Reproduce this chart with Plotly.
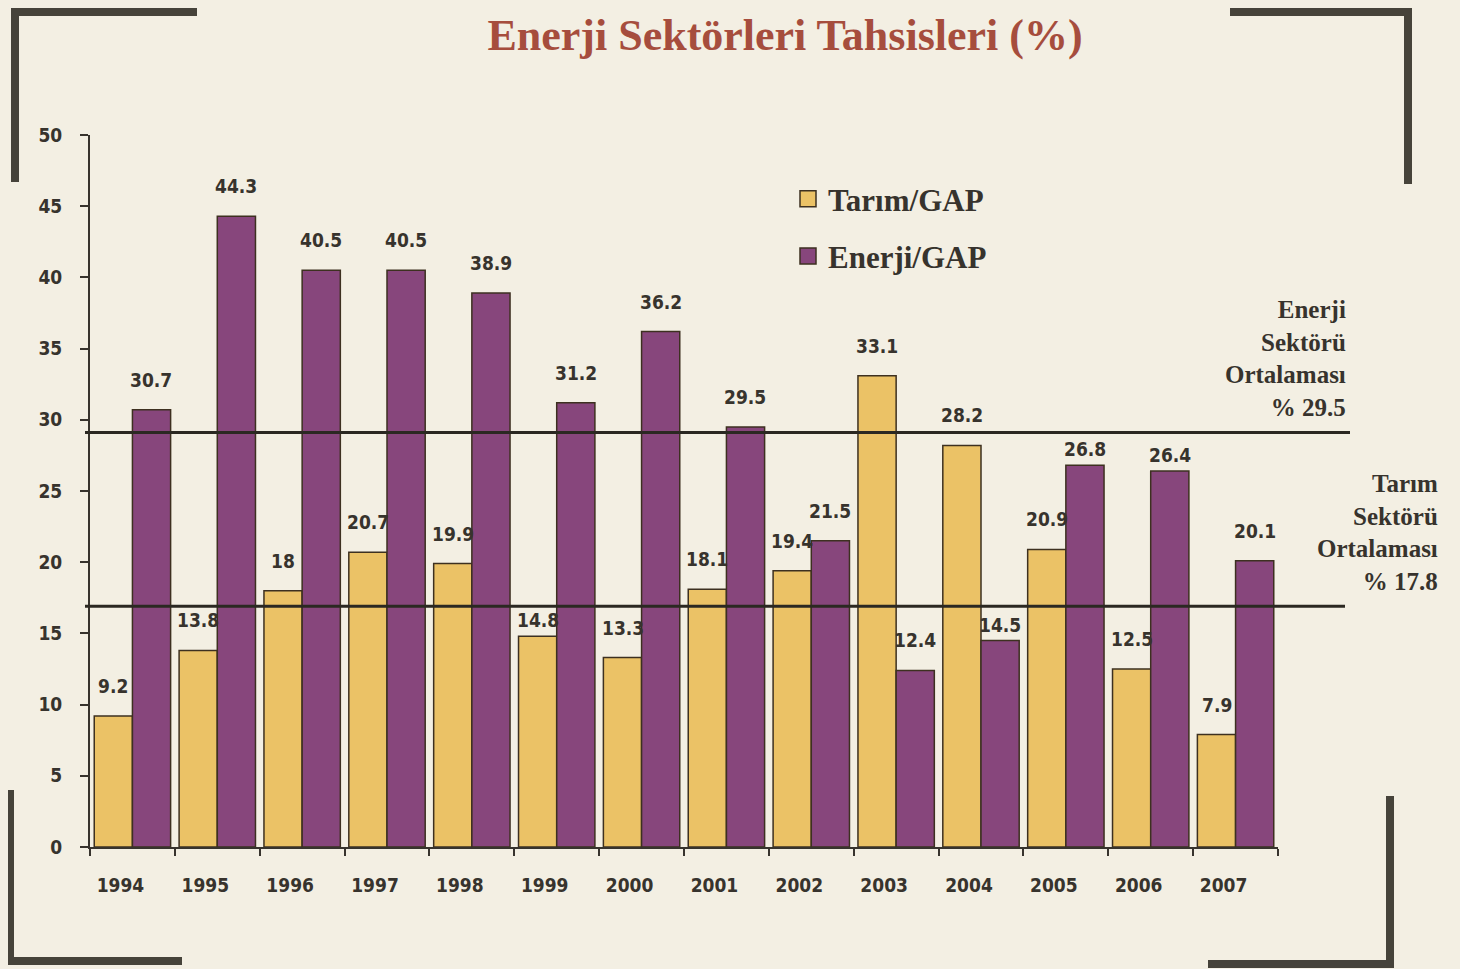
import plotly.graph_objects as go

years = ["1994", "1995", "1996", "1997", "1998", "1999", "2000",
         "2001", "2002", "2003", "2004", "2005", "2006", "2007"]
tarim = [9.2, 13.8, 18, 20.7, 19.9, 14.8, 13.3, 18.1, 19.4, 33.1, 28.2, 20.9, 12.5, 7.9]
enerji = [30.7, 44.3, 40.5, 40.5, 38.9, 31.2, 36.2, 29.5, 21.5, 12.4, 14.5, 26.8, 26.4, 20.1]
y_ticks = [0, 5, 10, 15, 20, 25, 30, 35, 40, 45, 50]

# average lines (position as drawn) and their printed labels
enerji_avg_line = 29.1
tarim_avg_line = 16.9
enerji_avg_text = "Enerji<br>Sektörü<br>Ortalaması<br>% 29.5"
tarim_avg_text = "Tarım<br>Sektörü<br>Ortalaması<br>% 17.8"

OFF = 8  # page body margin
W, H = 1460 - OFF, 969 - OFF
# plot area in page pixels
L, R, T, B = 90, 1278, 135, 847
BG = "#f3efe3"
DARK = "#37332d"
YELLOW = "#ebc266"
PURPLE = "#87467c"
OUTLINE = "#3d3020"
LABEL_FONT = dict(family="DejaVu Sans Condensed, DejaVu Sans, sans-serif", size=19,
                  color=DARK, weight="bold")
SERIF = "Liberation Serif, Times New Roman, serif"
PX_PER_UNIT = (B - T) / 50.0


def px(x):
    return (x - L) / (R - L)


def py(y):
    return (B - y) / (B - T)


def label_shift(v, shift=17, height=22):
    lo = v + shift / PX_PER_UNIT
    hi = v + (shift + height) / PX_PER_UNIT
    for line in (enerji_avg_line, tarim_avg_line):
        if lo <= line <= hi:
            return 3
    return shift


fig = go.Figure()
fig.add_trace(go.Bar(x=years, y=tarim, name="Tarım/GAP", showlegend=False,
                     marker=dict(color=YELLOW, line=dict(color=OUTLINE, width=1.5))))
fig.add_trace(go.Bar(x=years, y=enerji, name="Enerji/GAP", showlegend=False,
                     marker=dict(color=PURPLE, line=dict(color=OUTLINE, width=1.5))))
# legend entries
fig.add_trace(go.Scatter(x=[None], y=[None], mode="markers", name="Tarım/GAP",
                         legendgroup="a",
                         marker=dict(symbol="square", size=18, color=YELLOW,
                                     line=dict(color=OUTLINE, width=1.5))))
fig.add_trace(go.Scatter(x=[None], y=[None], mode="markers", name="Enerji/GAP",
                         legendgroup="b",
                         marker=dict(symbol="square", size=18, color=PURPLE,
                                     line=dict(color=OUTLINE, width=1.5))))

annotations = []
for i, yr in enumerate(years):
    annotations.append(dict(x=i, y=tarim[i], xref="x", yref="y", text=f"{tarim[i]:g}",
                            showarrow=False, xshift=-19, yanchor="bottom",
                            yshift=label_shift(tarim[i]), font=LABEL_FONT))
    annotations.append(dict(x=i, y=enerji[i], xref="x", yref="y", text=f"{enerji[i]:g}",
                            showarrow=False, xshift=19, yanchor="bottom",
                            yshift=label_shift(enerji[i]), font=LABEL_FONT))

annotations.append(dict(x=px(1348), y=py(294), xref="paper", yref="paper",
                        text=enerji_avg_text, showarrow=False, align="right",
                        xanchor="right", yanchor="top",
                        font=dict(family=SERIF, size=25, color=DARK, weight="bold")))
annotations.append(dict(x=px(1440), y=py(468), xref="paper", yref="paper",
                        text=tarim_avg_text, showarrow=False, align="right",
                        xanchor="right", yanchor="top",
                        font=dict(family=SERIF, size=25, color=DARK, weight="bold")))

shapes = [
    dict(type="line", xref="paper", yref="y", x0=px(85), x1=px(1350),
         y0=enerji_avg_line, y1=enerji_avg_line, line=dict(color="#2b2822", width=3)),
    dict(type="line", xref="paper", yref="y", x0=px(85), x1=px(1345),
         y0=tarim_avg_line, y1=tarim_avg_line, line=dict(color="#2b2822", width=3)),
]
FRAME = "#46433a"
brackets = [
    [(15, 182), (15, 12), (197, 12)],
    [(1230, 12), (1408, 12), (1408, 184)],
    [(10, 790), (10, 961), (182, 961)],
    [(1208, 964), (1390, 964), (1390, 796)],
]
for pts in brackets:
    path = "M " + " L ".join(f"{px(a):.5f},{py(b):.5f}" for a, b in pts)
    shapes.append(dict(type="path", xref="paper", yref="paper", path=path,
                       line=dict(color=FRAME, width=8)))

fig.update_layout(
    width=W, height=H,
    margin=dict(l=L - OFF, r=1460 - R, t=T - OFF, b=969 - B, pad=0),
    paper_bgcolor=BG, plot_bgcolor=BG,
    barmode="group", bargap=0.1, bargroupgap=0,
    title=dict(text="Enerji Sektörleri Tahsisleri (%)", x=(785 - OFF) / W, xanchor="center",
               y=1 - (35 - OFF) / H, yanchor="middle",
               font=dict(family=SERIF, size=44, color="#a64d3d", weight="bold")),
    legend=dict(x=px(788), y=py(172), xanchor="left", yanchor="top",
                bgcolor="rgba(0,0,0,0)", traceorder="grouped", tracegroupgap=14,
                font=dict(family=SERIF, size=31, color=DARK, weight="bold"),
                itemwidth=30),
    xaxis=dict(type="category", range=[-0.5, len(years) - 0.5],
               tickson="boundaries", ticks="outside", ticklen=7,
               tickcolor=DARK, tickwidth=2, showline=True, linecolor=DARK, linewidth=2,
               showgrid=False, zeroline=False, ticklabelshift=-12, ticklabelstandoff=20,
               tickangle=0, tickfont=LABEL_FONT),
    yaxis=dict(range=[0, 50], tickvals=y_ticks, ticks="outside", ticklen=8,
               tickcolor=DARK, tickwidth=2, showline=True, linecolor=DARK, linewidth=2,
               showgrid=False, zeroline=False, ticklabelstandoff=14,
               tickfont=LABEL_FONT),
    annotations=annotations,
    shapes=shapes,
)

fig.write_html("out.html",
               post_script="document.body.style.background='" + BG + "';")
